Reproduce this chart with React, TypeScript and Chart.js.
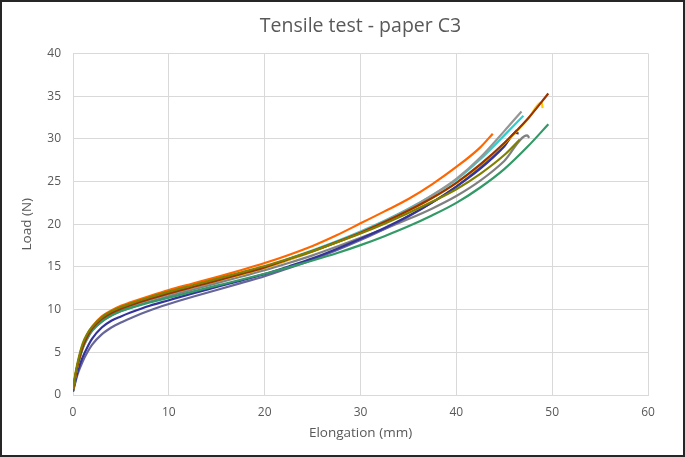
import React, { useEffect, useRef } from "react";
import { Chart, registerables } from "chart.js";

Chart.register(...registerables);

// Shared elongation grid (mm)
const elongation = [0, 0.25, 0.5, 1, 1.5, 2, 3, 4, 5, 6, 8, 10, 12.5, 15, 17.5, 20, 22.5, 25, 27.5, 30, 32.5, 35, 37.5, 40, 42.5, 45, 47.5];

// Load (N) per specimen on the shared grid, then the end points of each curve
const loadOlive = [0.7, 2.5, 3.9, 6.0, 7.2, 8.0, 9.1, 9.8, 10.3, 10.7, 11.45, 12.1, 12.85, 13.6, 14.35, 15.1, 15.95, 16.85, 17.85, 18.9, 20.05, 21.3, 22.65, 24.1, 25.9, 28.1];
const endOlive = [[46.6, 29.9]];
const loadBrown = [0.5, 2.2, 3.6, 5.6, 6.9, 7.8, 8.9, 9.6, 10.1, 10.5, 11.25, 11.9, 12.65, 13.4, 14.15, 14.95, 15.9, 16.85, 17.9, 19.0, 20.25, 21.6, 23.1, 24.85, 27.0, 29.5, 32.4];
const endBrown = [[49.6, 35.3]];
const loadOrange = [0.6, 2.3, 3.7, 5.8, 7.1, 8.0, 9.2, 9.9, 10.45, 10.85, 11.6, 12.3, 13.05, 13.8, 14.6, 15.45, 16.4, 17.45, 18.7, 20.1, 21.5, 22.95, 24.7, 26.7, 29.0];
const endOrange = [[43.8, 30.6]];
const loadGreen = [0.5, 2.3, 3.6, 5.5, 6.7, 7.6, 8.6, 9.3, 9.85, 10.2, 10.85, 11.4, 12.1, 12.8, 13.5, 14.2, 14.95, 15.75, 16.6, 17.55, 18.6, 19.75, 21.05, 22.5, 24.3, 26.45, 29.15];
const endGreen = [[49.6, 31.7]];
const loadGold = [0.6, 2.3, 3.7, 5.7, 7.0, 7.9, 9.0, 9.7, 10.2, 10.6, 11.3, 11.95, 12.65, 13.4, 14.1, 14.9, 15.85, 16.8, 17.85, 18.95, 20.2, 21.55, 23.05, 24.8, 26.95, 29.45, 32.35];
const endGold = [[48.9, 34.3], [49.0, 33.6]];
const loadGrayA = [0.5, 2.2, 3.6, 5.6, 6.8, 7.7, 8.8, 9.5, 10.0, 10.4, 11.15, 11.8, 12.55, 13.3, 14.05, 14.85, 15.8, 16.8, 17.9, 19.05, 20.35, 21.75, 23.4, 25.3, 27.8, 30.9];
const endGrayA = [[46.8, 33.2]];
const loadTeal = [0.5, 2.2, 3.6, 5.6, 6.8, 7.7, 8.8, 9.5, 10.0, 10.4, 11.2, 11.85, 12.6, 13.4, 14.2, 15.0, 15.95, 16.95, 18.0, 19.15, 20.4, 21.8, 23.4, 25.2, 27.6, 30.4];
const endTeal = [[47.0, 32.7]];
const loadIndigo = [0.4, 1.7, 2.8, 4.4, 5.6, 6.6, 7.9, 8.7, 9.2, 9.65, 10.45, 11.1, 11.9, 12.65, 13.4, 14.15, 15.05, 16.0, 17.1, 18.3, 19.55, 20.95, 22.55, 24.4, 26.5, 29.1];
const endIndigo = [[46.2, 30.7], [46.5, 30.6]];
const loadSlate = [0.4, 1.5, 2.5, 3.9, 5.0, 5.9, 7.1, 7.9, 8.5, 9.0, 9.9, 10.65, 11.5, 12.3, 13.1, 13.9, 14.85, 15.85, 16.95, 18.15, 19.45, 20.9, 22.55, 24.4, 26.7, 29.4];
const endSlate = [[46.3, 31.0]];
const loadGrayB = [0.5, 2.1, 3.4, 5.4, 6.6, 7.5, 8.6, 9.3, 9.8, 10.2, 10.95, 11.6, 12.35, 13.1, 13.85, 14.6, 15.45, 16.35, 17.35, 18.4, 19.45, 20.6, 21.85, 23.3, 25.1, 27.4];
const endGrayB = [[47.4, 30.4], [47.6, 30.1]];

const xTicks = [0, 10, 20, 30, 40, 50, 60];
const yTicks = [0, 5, 10, 15, 20, 25, 30, 35, 40];

const series = [
  { label: "S1", color: "#808000", load: loadOlive, end: endOlive },
  { label: "S2", color: "#993300", load: loadBrown, end: endBrown },
  { label: "S3", color: "#FF6600", load: loadOrange, end: endOrange },
  { label: "S4", color: "#339966", load: loadGreen, end: endGreen },
  { label: "S5", color: "#FFCC00", load: loadGold, end: endGold },
  { label: "S6", color: "#969696", load: loadGrayA, end: endGrayA },
  { label: "S7", color: "#33CCCC", load: loadTeal, end: endTeal },
  { label: "S8", color: "#333399", load: loadIndigo, end: endIndigo },
  { label: "S9", color: "#666699", load: loadSlate, end: endSlate },
  { label: "S10", color: "#808080", load: loadGrayB, end: endGrayB },
];

const FONT = "'Open Sans', 'Liberation Sans', sans-serif";
const TXT = "#595959";

export default function App() {
  const ref = useRef<HTMLCanvasElement | null>(null);

  useEffect(() => {
    document.body.style.margin = "0";
    const canvas = ref.current;
    if (!canvas) return;
    const datasets = series.map((s) => {
      const pts = s.load.map((y, i) => ({ x: elongation[i], y }));
      s.end.forEach(([x, y]) => pts.push({ x, y }));
      return {
        label: s.label,
        data: pts,
        borderColor: s.color,
        backgroundColor: s.color,
        borderWidth: 2.2,
        pointRadius: 0,
        showLine: true,
        fill: false,
        cubicInterpolationMode: "monotone" as const,
        tension: 0.4,
      };
    });
    const chart = new Chart(canvas, {
      type: "scatter",
      data: { datasets },
      options: {
        animation: false,
        responsive: false,
        maintainAspectRatio: false,
        layout: { padding: { left: 13, right: 35, top: 0, bottom: 0 } },
        plugins: {
          legend: { display: false },
          tooltip: { enabled: false },
          title: {
            display: true,
            fullSize: false,
            text: "Tensile test - paper C3",
            color: TXT,
            font: { family: FONT, size: 19.5, weight: "normal" },
            padding: { top: 13, bottom: 15 },
          },
        },
        scales: {
          x: {
            type: "linear",
            min: 0,
            max: 60,
            afterBuildTicks: (axis: any) => {
              axis.ticks = xTicks.map((v) => ({ value: v }));
            },
            afterFit: (axis: any) => {
              axis.height = 60;
            },
            grid: { color: "#d9d9d9", drawTicks: false },
            border: { color: "#d9d9d9" },
            ticks: { color: TXT, font: { family: FONT, size: 12 }, padding: 10 },
            title: {
              display: true,
              text: "Elongation (mm)",
              color: TXT,
              font: { family: FONT, size: 13.5 },
              padding: { top: 4, bottom: 14 },
            },
          },
          y: {
            type: "linear",
            min: 0,
            max: 40,
            afterBuildTicks: (axis: any) => {
              axis.ticks = yTicks.map((v) => ({ value: v }));
            },
            afterFit: (axis: any) => {
              axis.width = 58;
            },
            grid: { color: "#d9d9d9", drawTicks: false },
            border: { display: false },
            ticks: { color: TXT, font: { family: FONT, size: 12 }, padding: 12 },
            title: {
              display: true,
              text: "Load (N)",
              color: TXT,
              font: { family: FONT, size: 13.5 },
              padding: { top: 4, bottom: 4 },
            },
          },
        },
      },
    });
    return () => chart.destroy();
  }, []);

  return (
    <div
      style={{
        width: 685,
        height: 457,
        border: "2px solid #262626",
        boxSizing: "border-box",
        background: "#ffffff",
        position: "relative",
      }}
    >
      <canvas ref={ref} width={681} height={453} style={{ display: "block", width: 681, height: 453 }} />
    </div>
  );
}
